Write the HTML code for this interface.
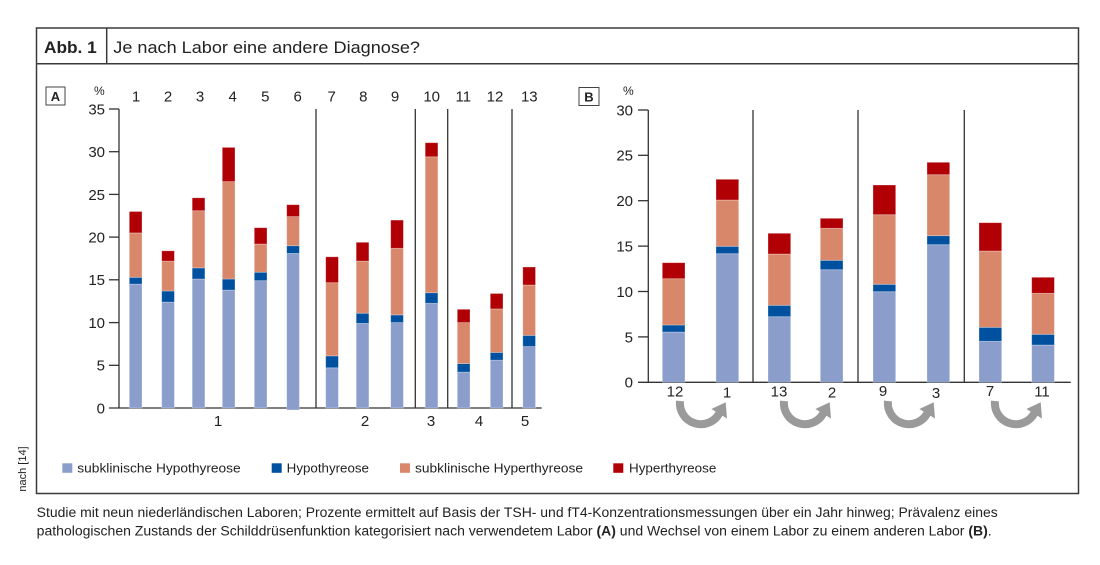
<!DOCTYPE html>
<html>
<head>
<meta charset="utf-8">
<style>
  html,body{margin:0;padding:0;background:#fff;}
  svg{display:block;}
  text{font-family:"Liberation Sans",sans-serif;fill:#222;}
</style>
</head>
<body>
<svg width="1100" height="565" viewBox="0 0 1100 565" xmlns="http://www.w3.org/2000/svg">
  <rect x="0" y="0" width="1100" height="565" fill="#fff"/>

  <!-- outer frame -->
  <rect x="36.5" y="28" width="1042" height="465.5" fill="none" stroke="#3a3a3a" stroke-width="1.5"/>
  <line x1="36.5" y1="63.7" x2="1078.5" y2="63.7" stroke="#3a3a3a" stroke-width="1.5"/>
  <line x1="106.7" y1="28" x2="106.7" y2="63.7" stroke="#3a3a3a" stroke-width="1.5"/>
  <text x="44" y="53" font-size="17" font-weight="bold" textLength="52.7" lengthAdjust="spacingAndGlyphs">Abb. 1</text>
  <text x="113.3" y="53" font-size="17" textLength="306.7" lengthAdjust="spacingAndGlyphs">Je nach Labor eine andere Diagnose?</text>

  <!-- ===== Panel A ===== -->
  <rect x="46" y="87" width="19" height="18" fill="#fff" stroke="#444" stroke-width="1"/>
  <text x="55.5" y="101" font-size="13" font-weight="bold" text-anchor="middle">A</text>
  <text x="99.3" y="95" font-size="12" text-anchor="middle">%</text>

  <g font-size="15" text-anchor="end">
    <text x="105" y="114.4">35</text>
    <text x="105" y="157.1">30</text>
    <text x="105" y="199.8">25</text>
    <text x="105" y="242.5">20</text>
    <text x="105" y="285.2">15</text>
    <text x="105" y="328">10</text>
    <text x="105" y="370.7">5</text>
    <text x="105" y="413.4">0</text>
  </g>
  <g stroke="#333" stroke-width="1.3">
    <line x1="109" y1="109" x2="119" y2="109"/>
    <line x1="109" y1="151.7" x2="119" y2="151.7"/>
    <line x1="109" y1="194.4" x2="119" y2="194.4"/>
    <line x1="109" y1="237.1" x2="119" y2="237.1"/>
    <line x1="109" y1="279.8" x2="119" y2="279.8"/>
    <line x1="109" y1="322.6" x2="119" y2="322.6"/>
    <line x1="109" y1="365.3" x2="119" y2="365.3"/>
    <line x1="119" y1="109" x2="119" y2="408"/>
    <line x1="109" y1="408" x2="541.7" y2="408"/>
    <line x1="316" y1="109" x2="316" y2="408"/>
    <line x1="415.3" y1="109" x2="415.3" y2="408"/>
    <line x1="447.7" y1="109" x2="447.7" y2="408"/>
    <line x1="512" y1="109" x2="512" y2="408"/>
  </g>

  <g font-size="15" text-anchor="middle">
    <text x="136" y="101.4">1</text>
    <text x="168" y="101.4">2</text>
    <text x="200" y="101.4">3</text>
    <text x="232.7" y="101.4">4</text>
    <text x="265.3" y="101.4">5</text>
    <text x="297.7" y="101.4">6</text>
    <text x="331.7" y="101.4">7</text>
    <text x="363.3" y="101.4">8</text>
    <text x="395" y="101.4">9</text>
    <text x="431.7" y="101.4">10</text>
    <text x="463.3" y="101.4">11</text>
    <text x="495" y="101.4">12</text>
    <text x="529.3" y="101.4">13</text>
    <text x="218" y="426">1</text>
    <text x="365" y="426">2</text>
    <text x="431" y="426">3</text>
    <text x="479" y="426">4</text>
    <text x="525" y="426">5</text>
  </g>

  <g stroke="#ffffff" stroke-opacity="0.35" stroke-width="0.8">
    <!-- bar 1 -->
    <rect x="129.3" y="284.1" width="12.7" height="123.9" fill="#8a9dcb"/>
    <rect x="129.3" y="277.3" width="12.7" height="6.8" fill="#0050a0"/>
    <rect x="129.3" y="232.9" width="12.7" height="44.4" fill="#d8876a"/>
    <rect x="129.3" y="211.5" width="12.7" height="21.4" fill="#b00005"/>
    <!-- bar 2 -->
    <rect x="161.7" y="302.1" width="12.7" height="105.9" fill="#8a9dcb"/>
    <rect x="161.7" y="291.0" width="12.7" height="11.1" fill="#0050a0"/>
    <rect x="161.7" y="261.1" width="12.7" height="29.9" fill="#d8876a"/>
    <rect x="161.7" y="250.8" width="12.7" height="10.3" fill="#b00005"/>
    <!-- bar 3 -->
    <rect x="192.2" y="279.0" width="12.7" height="129.0" fill="#8a9dcb"/>
    <rect x="192.2" y="267.9" width="12.7" height="11.1" fill="#0050a0"/>
    <rect x="192.2" y="210.7" width="12.7" height="57.2" fill="#d8876a"/>
    <rect x="192.2" y="197.8" width="12.7" height="12.9" fill="#b00005"/>
    <!-- bar 4 -->
    <rect x="222.3" y="290.1" width="12.7" height="117.9" fill="#8a9dcb"/>
    <rect x="222.3" y="279.0" width="12.7" height="11.1" fill="#0050a0"/>
    <rect x="222.3" y="181.6" width="12.7" height="97.4" fill="#d8876a"/>
    <rect x="222.3" y="147.4" width="12.7" height="34.2" fill="#b00005"/>
    <!-- bar 5 -->
    <rect x="254.3" y="280.7" width="12.7" height="127.3" fill="#8a9dcb"/>
    <rect x="254.3" y="272.2" width="12.7" height="8.5" fill="#0050a0"/>
    <rect x="254.3" y="244.0" width="12.7" height="28.2" fill="#d8876a"/>
    <rect x="254.3" y="227.7" width="12.7" height="16.3" fill="#b00005"/>
    <!-- bar 6 -->
    <rect x="286.7" y="253.4" width="12.7" height="156.6" fill="#8a9dcb"/>
    <rect x="286.7" y="245.7" width="12.7" height="7.7" fill="#0050a0"/>
    <rect x="286.7" y="216.6" width="12.7" height="29.1" fill="#d8876a"/>
    <rect x="286.7" y="204.7" width="12.7" height="11.9" fill="#b00005"/>
    <!-- bar 7 -->
    <rect x="325.7" y="367.8" width="12.7" height="40.2" fill="#8a9dcb"/>
    <rect x="325.7" y="355.9" width="12.7" height="11.9" fill="#0050a0"/>
    <rect x="325.7" y="282.7" width="12.7" height="73.2" fill="#d8876a"/>
    <rect x="325.7" y="256.8" width="12.7" height="25.9" fill="#b00005"/>
    <!-- bar 8 -->
    <rect x="356.2" y="323.4" width="12.7" height="84.6" fill="#8a9dcb"/>
    <rect x="356.2" y="313.2" width="12.7" height="10.2" fill="#0050a0"/>
    <rect x="356.2" y="261.1" width="12.7" height="52.1" fill="#d8876a"/>
    <rect x="356.2" y="242.3" width="12.7" height="18.8" fill="#b00005"/>
    <!-- bar 9 -->
    <rect x="390.7" y="322.6" width="12.7" height="85.4" fill="#8a9dcb"/>
    <rect x="390.7" y="314.9" width="12.7" height="7.7" fill="#0050a0"/>
    <rect x="390.7" y="248.3" width="12.7" height="66.6" fill="#d8876a"/>
    <rect x="390.7" y="220.1" width="12.7" height="28.2" fill="#b00005"/>
    <!-- bar 10 -->
    <rect x="425.2" y="303.3" width="12.7" height="104.7" fill="#8a9dcb"/>
    <rect x="425.2" y="292.7" width="12.7" height="10.6" fill="#0050a0"/>
    <rect x="425.2" y="156.8" width="12.7" height="135.9" fill="#d8876a"/>
    <rect x="425.2" y="142.7" width="12.7" height="14.1" fill="#b00005"/>
    <!-- bar 11 -->
    <rect x="457.3" y="372.1" width="12.7" height="35.9" fill="#8a9dcb"/>
    <rect x="457.3" y="363.6" width="12.7" height="8.5" fill="#0050a0"/>
    <rect x="457.3" y="322.6" width="12.7" height="41.0" fill="#d8876a"/>
    <rect x="457.3" y="309.3" width="12.7" height="13.3" fill="#b00005"/>
    <!-- bar 12 -->
    <rect x="490.3" y="360.2" width="12.7" height="47.8" fill="#8a9dcb"/>
    <rect x="490.3" y="352.5" width="12.7" height="7.7" fill="#0050a0"/>
    <rect x="490.3" y="308.9" width="12.7" height="43.6" fill="#d8876a"/>
    <rect x="490.3" y="293.5" width="12.7" height="15.4" fill="#b00005"/>
    <!-- bar 13 -->
    <rect x="522.8" y="346.5" width="12.7" height="61.5" fill="#8a9dcb"/>
    <rect x="522.8" y="335.4" width="12.7" height="11.1" fill="#0050a0"/>
    <rect x="522.8" y="285.0" width="12.7" height="50.4" fill="#d8876a"/>
    <rect x="522.8" y="267.0" width="12.7" height="18.0" fill="#b00005"/>
  </g>

  <!-- ===== Panel B ===== -->
  <rect x="579" y="87.5" width="20" height="18" fill="#fff" stroke="#444" stroke-width="1"/>
  <text x="589" y="101.5" font-size="13" font-weight="bold" text-anchor="middle">B</text>
  <text x="628.3" y="95" font-size="12" text-anchor="middle">%</text>

  <g font-size="15" text-anchor="end">
    <text x="633" y="115.4">30</text>
    <text x="633" y="160.7">25</text>
    <text x="633" y="206.1">20</text>
    <text x="633" y="251.5">15</text>
    <text x="633" y="296.9">10</text>
    <text x="633" y="342.3">5</text>
    <text x="633" y="387.7">0</text>
  </g>
  <g stroke="#333" stroke-width="1.3">
    <line x1="638" y1="110" x2="648.3" y2="110"/>
    <line x1="638" y1="155.3" x2="648.3" y2="155.3"/>
    <line x1="638" y1="200.7" x2="648.3" y2="200.7"/>
    <line x1="638" y1="246.1" x2="648.3" y2="246.1"/>
    <line x1="638" y1="291.5" x2="648.3" y2="291.5"/>
    <line x1="638" y1="336.9" x2="648.3" y2="336.9"/>
    <line x1="648.3" y1="110" x2="648.3" y2="382.3"/>
    <line x1="638" y1="382.3" x2="1070.7" y2="382.3"/>
    <line x1="753" y1="110" x2="753" y2="382.3"/>
    <line x1="858" y1="110" x2="858" y2="382.3"/>
    <line x1="964.3" y1="110" x2="964.3" y2="382.3"/>
  </g>

  <g stroke="#ffffff" stroke-opacity="0.35" stroke-width="0.8">
    <!-- 12 -->
    <rect x="662.3" y="332" width="22.7" height="50.3" fill="#8a9dcb"/>
    <rect x="662.3" y="325" width="22.7" height="7" fill="#0050a0"/>
    <rect x="662.3" y="278.7" width="22.7" height="46.3" fill="#d8876a"/>
    <rect x="662.3" y="262.7" width="22.7" height="16" fill="#b00005"/>
    <!-- 1 -->
    <rect x="716" y="253.7" width="22.7" height="128.6" fill="#8a9dcb"/>
    <rect x="716" y="246.3" width="22.7" height="7.4" fill="#0050a0"/>
    <rect x="716" y="200" width="22.7" height="46.3" fill="#d8876a"/>
    <rect x="716" y="179.3" width="22.7" height="20.7" fill="#b00005"/>
    <!-- 13 -->
    <rect x="768" y="316.7" width="22.7" height="65.6" fill="#8a9dcb"/>
    <rect x="768" y="305.3" width="22.7" height="11.4" fill="#0050a0"/>
    <rect x="768" y="254" width="22.7" height="51.3" fill="#d8876a"/>
    <rect x="768" y="233.3" width="22.7" height="20.7" fill="#b00005"/>
    <!-- 2 -->
    <rect x="820.3" y="269.7" width="22.7" height="112.6" fill="#8a9dcb"/>
    <rect x="820.3" y="260.3" width="22.7" height="9.4" fill="#0050a0"/>
    <rect x="820.3" y="228.3" width="22.7" height="32" fill="#d8876a"/>
    <rect x="820.3" y="218.3" width="22.7" height="10" fill="#b00005"/>
    <!-- 9 -->
    <rect x="873" y="291.7" width="22.7" height="90.6" fill="#8a9dcb"/>
    <rect x="873" y="284.3" width="22.7" height="7.4" fill="#0050a0"/>
    <rect x="873" y="214.7" width="22.7" height="69.6" fill="#d8876a"/>
    <rect x="873" y="185" width="22.7" height="29.7" fill="#b00005"/>
    <!-- 3 -->
    <rect x="927" y="244.7" width="22.7" height="137.6" fill="#8a9dcb"/>
    <rect x="927" y="235.7" width="22.7" height="9" fill="#0050a0"/>
    <rect x="927" y="174.7" width="22.7" height="61" fill="#d8876a"/>
    <rect x="927" y="162.3" width="22.7" height="12.4" fill="#b00005"/>
    <!-- 7 -->
    <rect x="979" y="341.3" width="22.7" height="41" fill="#8a9dcb"/>
    <rect x="979" y="327.3" width="22.7" height="14" fill="#0050a0"/>
    <rect x="979" y="251" width="22.7" height="76.3" fill="#d8876a"/>
    <rect x="979" y="222.7" width="22.7" height="28.3" fill="#b00005"/>
    <!-- 11 -->
    <rect x="1031.7" y="345" width="22.7" height="37.3" fill="#8a9dcb"/>
    <rect x="1031.7" y="334.3" width="22.7" height="10.7" fill="#0050a0"/>
    <rect x="1031.7" y="293.3" width="22.7" height="41" fill="#d8876a"/>
    <rect x="1031.7" y="277.3" width="22.7" height="16" fill="#b00005"/>
  </g>

  <g font-size="15" text-anchor="middle">
    <text x="675" y="396.5">12</text>
    <text x="727" y="397.5">1</text>
    <text x="779" y="396.5">13</text>
    <text x="832" y="397.5">2</text>
    <text x="883" y="396">9</text>
    <text x="936" y="398">3</text>
    <text x="990" y="396">7</text>
    <text x="1042" y="396.5">11</text>
  </g>

  <!-- arrows -->
  <g fill="none" stroke="#9a9a9a" stroke-width="8">
    <path d="M680 401 A21 21 0 0 0 719.2 413.5"/>
    <path d="M784 401 A21 21 0 0 0 823.2 413.5"/>
    <path d="M888 401 A21 21 0 0 0 927.2 413.5"/>
    <path d="M995 401 A21 21 0 0 0 1034.2 413.5"/>
  </g>
  <g fill="#9a9a9a">
    <polygon points="725.7,402.2 727,418.5 711.4,409"/>
    <polygon points="829.7,402.2 831,418.5 815.4,409"/>
    <polygon points="933.7,402.2 935,418.5 919.4,409"/>
    <polygon points="1040.7,402.2 1042,418.5 1026.4,409"/>
  </g>

  <!-- legend -->
  <rect x="62.3" y="463.3" width="10" height="9.5" fill="#8a9dcb"/>
  <text x="77.3" y="472.5" font-size="13" textLength="163.4" lengthAdjust="spacingAndGlyphs">subklinische Hypothyreose</text>
  <rect x="271.7" y="463.3" width="10" height="9.5" fill="#0050a0"/>
  <text x="286.7" y="472.5" font-size="13" textLength="82.3" lengthAdjust="spacingAndGlyphs">Hypothyreose</text>
  <rect x="400" y="463.3" width="10" height="9.5" fill="#d8876a"/>
  <text x="415" y="472.5" font-size="13" textLength="168" lengthAdjust="spacingAndGlyphs">subklinische Hyperthyreose</text>
  <rect x="613.3" y="463.3" width="10" height="9.5" fill="#b00005"/>
  <text x="629" y="472.5" font-size="13" textLength="87.3" lengthAdjust="spacingAndGlyphs">Hyperthyreose</text>

  <!-- source -->
  <text x="26" y="469" font-size="11" text-anchor="middle" transform="rotate(-90 26 469)">nach [14]</text>

  <!-- caption -->
  <text x="36.7" y="517" font-size="13.5" textLength="961" lengthAdjust="spacingAndGlyphs">Studie mit neun niederländischen Laboren; Prozente ermittelt auf Basis der TSH- und fT4-Konzentrationsmessungen über ein Jahr hinweg; Prävalenz eines</text>
  <text x="36.7" y="535.5" font-size="13.5" textLength="955" lengthAdjust="spacingAndGlyphs">pathologischen Zustands der Schilddrüsenfunktion kategorisiert nach verwendetem Labor <tspan font-weight="bold">(A)</tspan> und Wechsel von einem Labor zu einem anderen Labor <tspan font-weight="bold">(B)</tspan>.</text>
</svg>
</body>
</html>
